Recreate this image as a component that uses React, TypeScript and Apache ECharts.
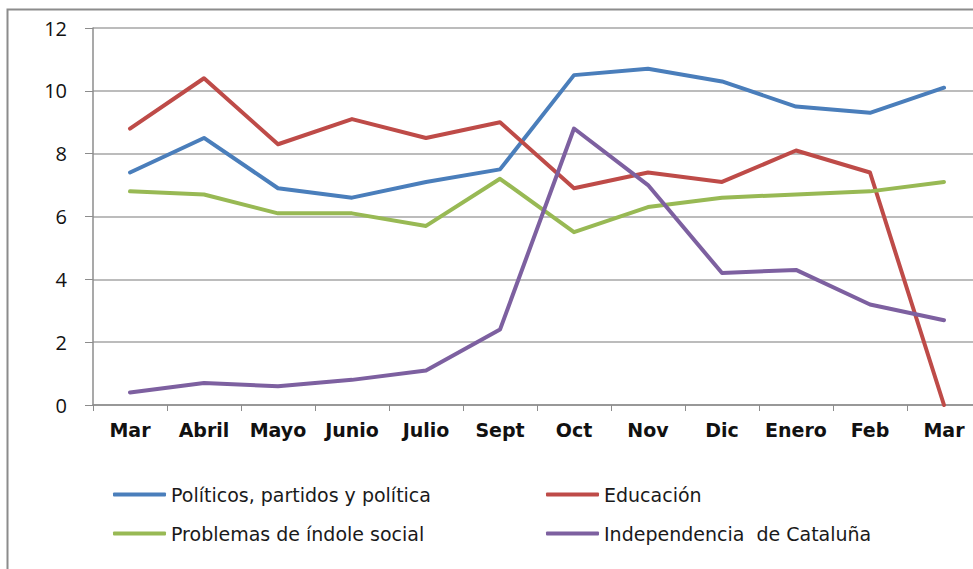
import React, { useEffect, useRef } from "react";
import * as echarts from "echarts";

const categories = ["Mar", "Abril", "Mayo", "Junio", "Julio", "Sept", "Oct", "Nov", "Dic", "Enero", "Feb", "Mar"];
const politicos = [7.4, 8.5, 6.9, 6.6, 7.1, 7.5, 10.5, 10.7, 10.3, 9.5, 9.3, 10.1];
const educacion = [8.8, 10.4, 8.3, 9.1, 8.5, 9.0, 6.9, 7.4, 7.1, 8.1, 7.4, 0];
const social = [6.8, 6.7, 6.1, 6.1, 5.7, 7.2, 5.5, 6.3, 6.6, 6.7, 6.8, 7.1];
const independencia = [0.4, 0.7, 0.6, 0.8, 1.1, 2.4, 8.8, 7.0, 4.2, 4.3, 3.2, 2.7];
const seriesNames = [
  "Políticos, partidos y política",
  "Educación",
  "Problemas de índole social",
  "Independencia  de Cataluña",
];
const colors = ["#4A7EBB", "#BE4B48", "#98B954", "#7D60A0"];

export default function App() {
  const ref = useRef<HTMLDivElement>(null);
  useEffect(() => {
    if (!ref.current) return;
    const chart = echarts.init(ref.current, null, { renderer: "svg" });
    const data = [politicos, educacion, social, independencia];
    const legendCommon = {
      orient: "vertical" as const,
      top: 485,
      padding: 0,
      itemGap: 20,
      itemWidth: 53,
      itemHeight: 4,
      icon: "roundRect",
      textStyle: { fontFamily: "DejaVu Sans", fontSize: 19, color: "#1a1a1a" },
    };
    chart.setOption({
      animation: false,
      backgroundColor: "#ffffff",
      color: colors,
      grid: { left: 93, top: 28, right: 19, bottom: 164, containLabel: false },
      graphic: [
        {
          type: "rect",
          left: 5,
          top: 7,
          shape: { x: 0, y: 0, width: 1000, height: 600 },
          style: { fill: "none", stroke: "#8c8c8c", lineWidth: 2 },
          silent: true,
          z: -1,
        },
      ],
      legend: [
        { ...legendCommon, left: 113, data: [seriesNames[0], seriesNames[2]] },
        { ...legendCommon, left: 546, data: [seriesNames[1], seriesNames[3]] },
      ],
      xAxis: {
        type: "category",
        data: categories,
        boundaryGap: true,
        axisLine: { lineStyle: { color: "#8c8c8c", width: 1.5 } },
        axisTick: { show: true, length: 6, alignWithLabel: false, lineStyle: { color: "#8c8c8c" } },
        axisLabel: {
          margin: 15,
          interval: 0,
          fontFamily: "DejaVu Sans",
          fontWeight: "bold",
          fontSize: 19,
          color: "#111",
        },
      },
      yAxis: {
        type: "value",
        min: 0,
        max: 12,
        interval: 2,
        axisLine: { show: true, lineStyle: { color: "#8c8c8c", width: 1.5 } },
        axisTick: { show: true, length: 8, lineStyle: { color: "#8c8c8c" } },
        splitLine: { lineStyle: { color: "#a6a6a6", width: 1.5 } },
        axisLabel: {
          margin: 26,
          fontFamily: "Open Sans",
          fontSize: 20,
          color: "#111",
        },
      },
      series: data.map((d, i) => ({
        name: seriesNames[i],
        type: "line",
        data: d,
        symbol: "none",
        smooth: false,
        lineStyle: { width: 4, color: colors[i], cap: "round", join: "round" },
        itemStyle: { color: colors[i] },
      })),
    });
    return () => chart.dispose();
  }, []);
  return (
    <div style={{ position: "absolute", left: 0, top: 0, width: 973, height: 569, overflow: "hidden", background: "#fff" }}>
      <div ref={ref} style={{ width: 1000, height: 569 }} />
    </div>
  );
}
